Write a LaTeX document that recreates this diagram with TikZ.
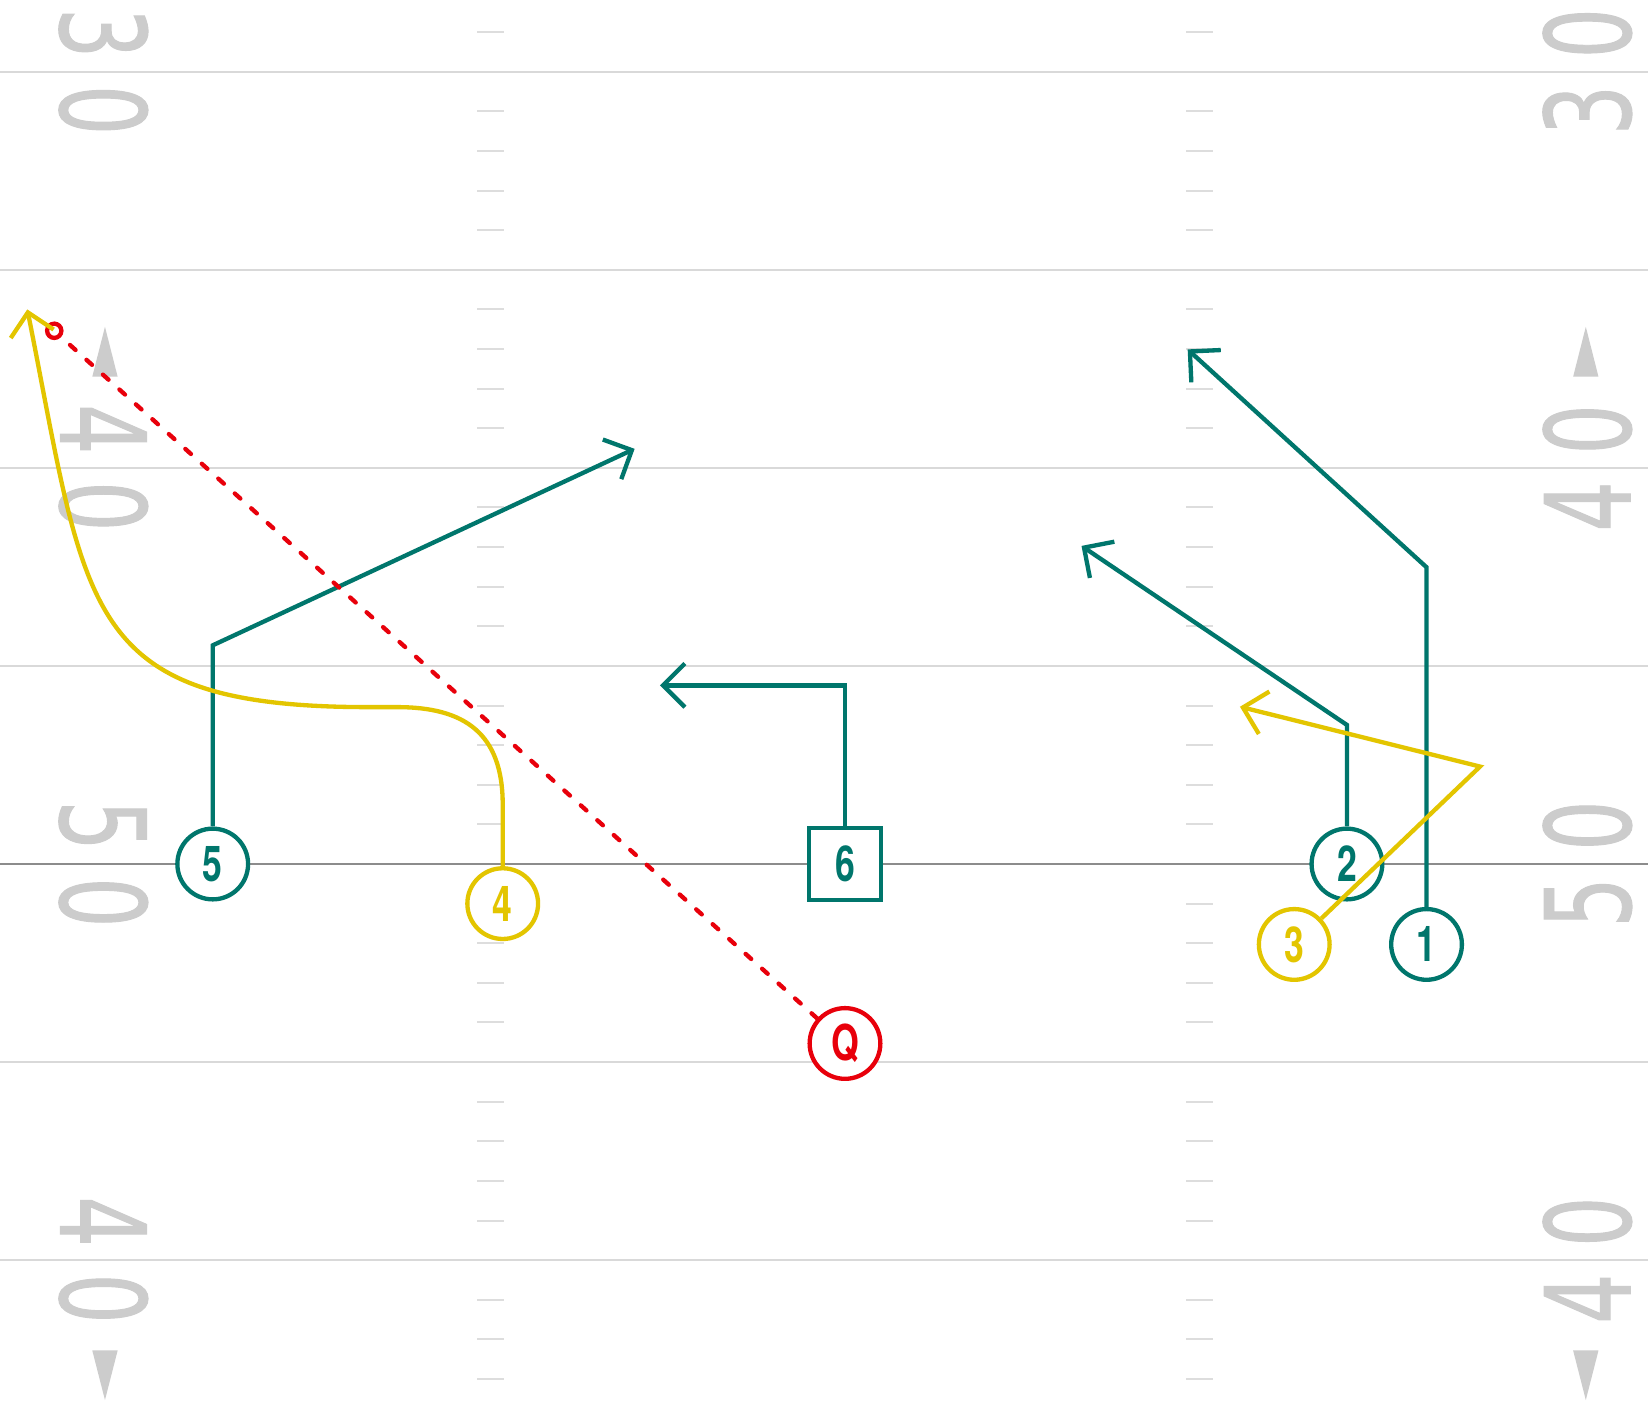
\documentclass[tikz,border=0pt]{standalone}
\usepackage{fontspec}
\newfontfamily\yardfont[FakeStretch=0.665, FakeBold=0.8]{DejaVu Sans}
\newfontfamily\manfont[FakeStretch=0.72]{TeX Gyre Heros}
\usetikzlibrary{arrows.meta}
\definecolor{routeteal}{HTML}{00766C}
\definecolor{routeyellow}{HTML}{E3C500}
\definecolor{routered}{HTML}{E8000B}
\definecolor{fieldline}{HTML}{D9D9D9}
\definecolor{losline}{HTML}{8C8C8C}
\definecolor{hashgray}{HTML}{DDDDDD}
\definecolor{yardgray}{HTML}{CCCCCC}

\begin{document}
\begin{tikzpicture}[
  player/.style={circle, draw=#1, text=#1, fill=white, line width=3.1pt, minimum size=1.785cm,
    inner sep=0pt, font=\manfont\bfseries\fontsize{35.5}{35.5}\selectfont},
  playerbox/.style={rectangle, draw=#1, text=#1, fill=white, line width=3.1pt, minimum size=1.81cm,
    inner sep=0pt, font=\manfont\bfseries\fontsize{35.5}{35.5}\selectfont},
  route/.style={line width=3.1pt, -{Straight Barb[angle=90:0.78cm]}},
  throw/.style={routered, line width=3.1pt, line cap=round, dash pattern=on 0.19cm off 0.37cm},
  yardnum/.style={text=yardgray, inner sep=0pt, font=\yardfont\fontsize{85}{85}\selectfont},
  hash/.style={hashgray, line width=1.45pt}]

\fill[white] (-21.33,-13.81) rectangle (20.27,21.81);
\useasboundingbox (-21.33,-13.81) rectangle (20.27,21.81);

% field
\foreach \y in {-10,-5,5,10,15,20}
  \draw[fieldline, line width=1.45pt] (-21.33,\y) -- (20.27,\y);
\draw[losline, line width=1.7pt] (-21.33,0) -- (20.27,0);
\foreach \y in {-13,-12,-11,-9,-8,-7,-6,-4,-3,-2,-1,1,2,3,4,6,7,8,9,11,12,13,14,16,17,18,19,21}
  \draw[hash] (-9.28,\y) -- (-8.62,\y) (8.62,\y) -- (9.28,\y);

\node[yardnum, rotate=-90] (y30l) at (-18.72,20) {3\hspace{0.68cm}0};
\node[yardnum, rotate=-90] (y40l) at (-18.72,10) {4\hspace{0.68cm}0};
\node[yardnum, rotate=-90] (y50l) at (-18.72,0) {5\hspace{0.68cm}0};
\node[yardnum, rotate=-90] (y40bl) at (-18.72,-10) {4\hspace{0.68cm}0};
\node[yardnum, rotate=90] (y30r) at (18.74,20) {3\hspace{0.68cm}0};
\node[yardnum, rotate=90] (y40r) at (18.74,10) {4\hspace{0.68cm}0};
\node[yardnum, rotate=90] (y50r) at (18.74,0) {5\hspace{0.68cm}0};
\node[yardnum, rotate=90] (y40br) at (18.74,-10) {4\hspace{0.68cm}0};

\foreach \x in {-18.68,18.7} {
  \fill[yardgray] (\x,13.56) -- (\x-0.32,12.3) -- (\x+0.32,12.3) -- cycle;
  \fill[yardgray] (\x,-13.53) -- (\x-0.32,-12.28) -- (\x+0.32,-12.28) -- cycle;
}

% players
\node[player=routeteal] (p5) at (-15.96,0) {5};
\node[player=routeyellow] (p4) at (-8.64,-1) {4};
\node[playerbox=routeteal] (p6) at (0,0) {6};
\node[player=routered] (pq) at (0,-4.53) {Q};
\node[player=routeyellow] (p3) at (11.34,-2.03) {3};
\node[player=routeteal] (p2) at (12.67,0) {2};
\node[player=routeteal] (p1) at (14.68,-2.03) {1};
\node[circle, draw=routered, fill=white, line width=3.1pt, minimum size=0.36cm,
  inner sep=0pt] (ball) at (-19.96,13.46) {};

\coordinate (r5a) at (-15.96,5.52);
\coordinate (r5b) at (-5.31,10.48);
\coordinate (r6a) at (0,4.51);
\coordinate (r6b) at (-4.67,4.51);
\coordinate (r2a) at (12.67,3.51);
\coordinate (r2b) at (5.97,8.03);
\coordinate (r1a) at (14.68,7.49);
\coordinate (r1b) at (8.65,12.99);
\coordinate (r3a) at (16.03,2.46);
\coordinate (r3b) at (9.97,3.97);
\coordinate (r4a) at (-8.64,1.5);
\coordinate (r4b) at (-11.3,3.96);
\coordinate (r4c) at (-12,3.96);
\coordinate (r4d) at (-20.64,14);

% routes
\draw[route, routeteal] (p5) -- (r5a) -- (r5b);
\draw[route, routeteal] (p6) -- (r6a) -- (r6b);
\draw[route, routeteal] (p2) -- (r2a) -- (r2b);
\draw[route, routeteal] (p1) -- (r1a) -- (r1b);
\draw[route, routeyellow] (p3) -- (r3a) -- (r3b);
\draw[route, routeyellow] (p4) -- (r4a) .. controls (-8.64,3.3) and (-9.6,3.96) .. (r4b)
  -- (r4c) .. controls (-19.3,3.96) and (-19.12,6.36) .. (r4d);
\draw[throw] (pq) -- (ball);
\end{tikzpicture}
\end{document}
